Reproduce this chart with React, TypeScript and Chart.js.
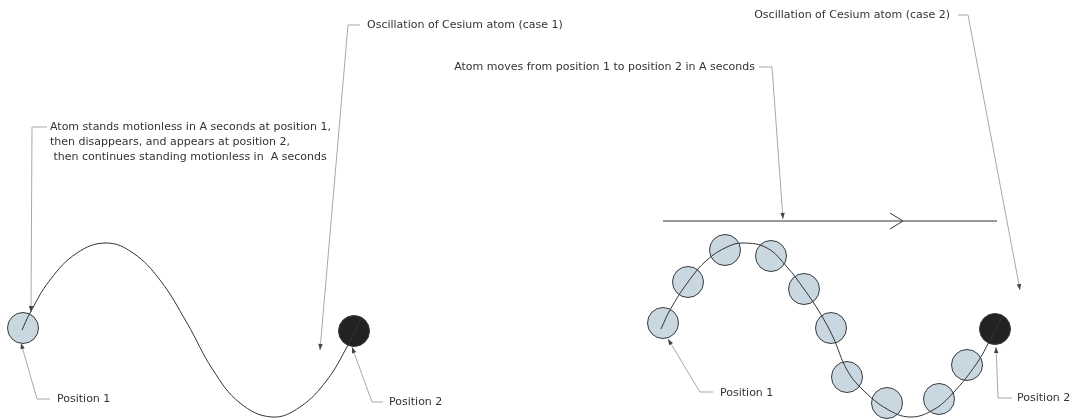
import React, { useEffect, useRef } from "react";
import { Chart, registerables } from "chart.js";

Chart.register(...registerables);

// Oscillation path, case 1 (x, y in drawing units, y downwards)
const curve1X = [22, 30, 50, 77, 106, 133, 160, 187, 213, 240, 272, 300, 327, 348, 362];
const curve1Y = [330, 313, 280, 253, 243, 253, 280, 323, 370, 403, 417, 407, 380, 345, 317];

// Oscillation path, case 2
const curve2X = [661, 670, 688, 707, 727, 743, 767, 787, 804, 820, 833, 847, 863, 887, 910, 933, 953, 977, 990, 1002];
const curve2Y = [329, 310, 282, 260, 247, 243, 248, 267, 289, 313, 337, 370, 390, 409, 417, 410, 393, 363, 340, 317];

// Atom positions
const atoms1X = [23];
const atoms1Y = [328];
const final1X = [354];
const final1Y = [331];
const atoms2X = [663, 688, 725, 771, 804, 831, 847, 887, 939, 967];
const atoms2Y = [323, 282, 250, 256, 289, 328, 377, 403, 399, 365];
const final2X = [995];
const final2Y = [329];

// Direction line (case 2)
const dirX = [663, 997];
const dirY = [221, 221];
const chevronX = [890, 903, 890];
const chevronY = [213, 221, 229];

// Callout texts
const calloutTexts = [
  ["Atom stands motionless in A seconds at position 1,", "then disappears, and appears at position 2,", " then continues standing motionless in  A seconds"],
  ["Oscillation of Cesium atom (case 1)"],
  ["Position 1"],
  ["Position 2"],
  ["Atom moves from position 1 to position 2 in A seconds"],
  ["Oscillation of Cesium atom (case 2)"],
  ["Position 1"],
  ["Position 2"],
];
const calloutTextX = [50, 367, 57, 389, 755, 950, 720, 1017];
const calloutTextY = [127, 25, 399, 402, 67, 15, 393, 398];
const calloutAlign = ["left", "left", "left", "left", "right", "right", "left", "left"];
// Leader polylines (last point = arrow tip)
const leaderX = [
  [47, 32, 31],
  [360, 348, 320],
  [50, 37, 21],
  [383, 372, 352],
  [759, 772, 783],
  [958, 968, 1020],
  [713, 700, 668],
  [1012, 998, 996],
];
const leaderY = [
  [127, 127, 312],
  [25, 25, 350],
  [399, 399, 343],
  [402, 402, 347],
  [67, 67, 219],
  [15, 15, 290],
  [392, 392, 339],
  [398, 398, 347],
];

const FONT = '11px "DejaVu Sans", "Liberation Sans", sans-serif';
const LINE_H = 15;

const pts = (xs: number[], ys: number[]) => xs.map((x, i) => ({ x, y: ys[i] }));

const annotationPlugin = {
  id: "annotations",
  afterDatasetsDraw(chart: any) {
    const { ctx, scales } = chart;
    const sx = scales.x;
    const sy = scales.y;
    ctx.save();
    // arrowheads
    leaderX.forEach((xs, i) => {
      const ys = leaderY[i];
      const n = xs.length;
      const tx = sx.getPixelForValue(xs[n - 1]);
      const ty = sy.getPixelForValue(ys[n - 1]);
      const fx = sx.getPixelForValue(xs[n - 2]);
      const fy = sy.getPixelForValue(ys[n - 2]);
      const ang = Math.atan2(ty - fy, tx - fx);
      const len = 6;
      const w = 2.2;
      ctx.beginPath();
      ctx.moveTo(tx, ty);
      ctx.lineTo(tx - len * Math.cos(ang) + w * Math.sin(ang), ty - len * Math.sin(ang) - w * Math.cos(ang));
      ctx.lineTo(tx - len * Math.cos(ang) - w * Math.sin(ang), ty - len * Math.sin(ang) + w * Math.cos(ang));
      ctx.closePath();
      ctx.fillStyle = "#444";
      ctx.fill();
    });
    // texts
    ctx.font = FONT;
    ctx.fillStyle = "#333";
    ctx.textBaseline = "middle";
    calloutTexts.forEach((lines, i) => {
      ctx.textAlign = calloutAlign[i];
      const x = sx.getPixelForValue(calloutTextX[i]);
      const y = sy.getPixelForValue(calloutTextY[i]);
      lines.forEach((line, j) => {
        ctx.fillText(line, x, y + j * LINE_H);
      });
    });
    ctx.restore();
  },
};

export default function App() {
  const ref = useRef<HTMLCanvasElement | null>(null);
  useEffect(() => {
    if (!ref.current) return;
    const lineDs = (data: any[], color: string, tension: number, order: number) => ({
      type: "line" as const,
      data,
      showLine: true,
      borderColor: color,
      borderWidth: 1,
      pointRadius: 0,
      tension,
      fill: false,
      clip: false as any,
      order,
    });
    const atomDs = (data: any[], fillColor: string, order: number) => ({
      type: "scatter" as const,
      data,
      pointRadius: 15.5,
      pointBackgroundColor: fillColor,
      pointBorderColor: "#3a3a3a",
      pointBorderWidth: 1,
      showLine: false,
      clip: false as any,
      order,
    });
    const datasets: any[] = [
      lineDs(pts(curve1X, curve1Y), "#333", 0.4, 0),
      lineDs(pts(curve2X, curve2Y), "#333", 0.4, 0),
      lineDs(pts(dirX, dirY), "#333", 0, 0),
      lineDs(pts(chevronX, chevronY), "#333", 0, 0),
      ...leaderX.map((xs, i) => lineDs(pts(xs, leaderY[i]), "#a8a8a8", 0, 0)),
      atomDs(pts(atoms1X, atoms1Y), "#c9d7e1", 2),
      atomDs(pts(final1X, final1Y), "#222", 2),
      atomDs(pts(atoms2X, atoms2Y), "#c9d7e1", 2),
      atomDs(pts(final2X, final2Y), "#222", 2),
    ];
    const chart = new Chart(ref.current, {
      type: "scatter",
      data: { datasets },
      options: {
        animation: false,
        responsive: false,
        maintainAspectRatio: false,
        layout: { padding: 0, autoPadding: false },
        events: [],
        plugins: { legend: { display: false }, tooltip: { enabled: false }, title: { display: false } },
        scales: {
          x: { type: "linear", min: 0, max: 1073, display: false },
          y: { type: "linear", min: 0, max: 419, reverse: true, display: false },
        },
      },
      plugins: [annotationPlugin],
    } as any);
    return () => chart.destroy();
  }, []);
  return (
    <div style={{ position: "absolute", left: 0, top: 0, width: 1073, height: 419, background: "#fff" }}>
      <canvas ref={ref} width={1073} height={419} style={{ display: "block" }} />
    </div>
  );
}
